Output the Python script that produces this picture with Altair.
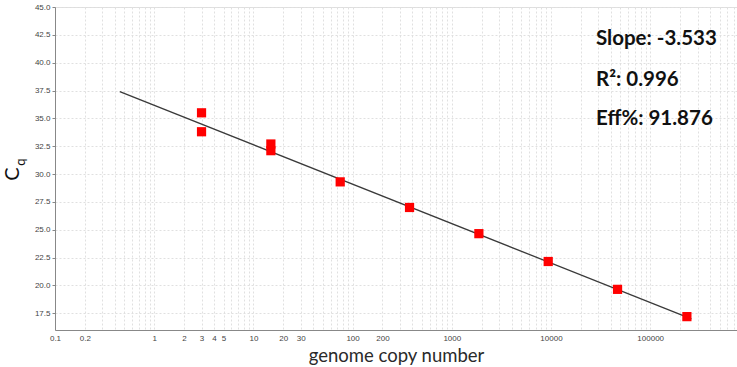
import altair as alt
import pandas as pd

# measured standards (copies vs Cq)
copies = [3, 3, 15, 15, 75, 375, 1875, 9375, 46875, 234375]
cq = [35.5, 33.8, 32.7, 32.1, 29.3, 27.0, 24.65, 22.15, 19.65, 17.2]

# regression line end points
fit_copies = [0.45, 260000]
fit_cq = [37.4, 17.0]

x_label_values = [0.1, 0.2, 1, 2, 3, 4, 5, 10, 20, 30, 100, 200, 1000, 10000, 100000]
x_grid_values = [round(m * 10 ** k, 6) for k in range(-1, 6) for m in range(1, 10)] + [1000000]
y_tick_values = [17.5, 20.0, 22.5, 25.0, 27.5, 30.0, 32.5, 35.0, 37.5, 40.0, 42.5, 45.0]

annot_lines = ["Slope: -3.533", "R\u00b2: 0.996", "Eff%: 91.876"]
annot_baselines = [38, 79, 118]

pts = pd.DataFrame({"copies": copies, "cq": cq})
fit = pd.DataFrame({"copies": fit_copies, "cq": fit_cq})

W, H = 682, 323
x_dom = [0.1, 750000]
y_dom = [16, 45]

GRID = "#e0e0e0"

label_list = ",".join(str(v) for v in x_label_values)
x_axis = alt.Axis(
    values=x_grid_values,
    labelExpr=f"indexof([{label_list}], datum.value) >= 0 ? format(datum.value, '~g') : ''",
    labelOverlap=False,
    labelFlush=False,
    labelFont="Liberation Sans",
    labelFontSize=8,
    labelColor="#444444",
    labelPadding=4,
    ticks=False,
    grid=True,
    gridColor=GRID,
    gridDash=[2, 2],
    gridWidth=1,
    domainColor="#888888",
    title="genome copy number",
    titleFont="Lato",
    titleFontSize=18.5,
    titleFontWeight="normal",
    titleColor="#2a2a2a",
    titlePadding=4,
)
y_axis = alt.Axis(
    values=y_tick_values,
    format=".1f",
    labelFont="Liberation Sans",
    labelFontSize=8,
    labelColor="#444444",
    labelFlush=False,
    labelOverlap=False,
    tickSize=3,
    tickColor="#888888",
    grid=True,
    gridColor=GRID,
    gridDash=[2, 2],
    domainColor="#888888",
    title=None,
)

xs = alt.Scale(type="log", domain=x_dom, nice=False)
ys = alt.Scale(domain=y_dom, nice=False, zero=False)

line = alt.Chart(fit).mark_line(color="#3a3a3a", strokeWidth=1.3).encode(
    x=alt.X("copies:Q", scale=xs, axis=x_axis),
    y=alt.Y("cq:Q", scale=ys, axis=y_axis),
)

points = alt.Chart(pts).mark_point(shape="square", filled=True, color="#ff0000", size=85, opacity=1).encode(
    x=alt.X("copies:Q", scale=xs, axis=x_axis),
    y=alt.Y("cq:Q", scale=ys, axis=y_axis),
)

layers = [line, points]
for txt, yb in zip(annot_lines, annot_baselines):
    layers.append(
        alt.Chart(pd.DataFrame({"t": [txt]})).mark_text(
            font="Lato", fontSize=20.5, fontWeight="bold", align="left", baseline="alphabetic", color="#111111"
        ).encode(text="t:N", x=alt.value(541), y=alt.value(yb))
    )

layers.append(
    alt.Chart(pd.DataFrame({"t": ["C"]})).mark_text(
        font="Lato", fontSize=20, angle=270, align="center", baseline="alphabetic", color="#111111"
    ).encode(text="t:N", x=alt.value(-36), y=alt.value(167))
)
layers.append(
    alt.Chart(pd.DataFrame({"t": ["q"]})).mark_text(
        font="Lato", fontSize=13, angle=270, align="center", baseline="alphabetic", color="#111111"
    ).encode(text="t:N", x=alt.value(-30), y=alt.value(155))
)

chart = alt.layer(*layers).properties(
    width=W,
    height=H,
    autosize=alt.AutoSizeParams(type="none"),
    padding={"left": 55, "top": 7, "right": 0, "bottom": 37},
).configure_view(stroke=None).configure(background="white")

chart.save("out.html", embed_options={"renderer": "svg", "actions": False})
